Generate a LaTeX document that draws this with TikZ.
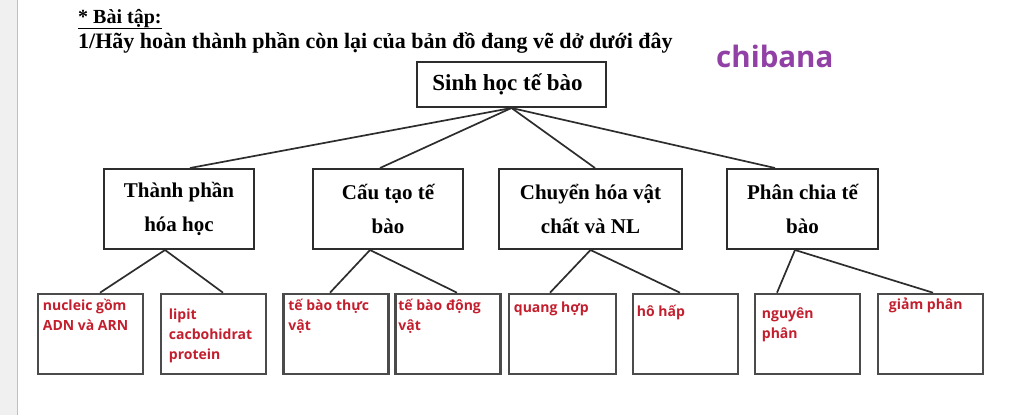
\documentclass[tikz,border=0pt]{standalone}
\usepackage{fontspec}
\setmainfont{Liberation Serif}
\newfontfamily\notefont{Open Sans}
\definecolor{boxline}{RGB}{45,45,45}
\definecolor{leafline}{RGB}{75,75,75}
\definecolor{answer}{RGB}{195,30,45}
\definecolor{brand}{RGB}{145,65,165}
\tikzset{
  topic/.style={draw=boxline,line width=2pt,minimum height=80pt,inner sep=0pt,align=center,
    font=\bfseries\fontsize{21}{34}\selectfont},
  leaf/.style={draw=leafline,line width=2.6pt,minimum width=105pt,minimum height=80pt},
  note/.style={anchor=north west,inner sep=0pt,align=left,text=answer,
    font=\notefont\bfseries\fontsize{14}{20}\selectfont},
  link/.style={draw=boxline,line width=1.7pt},
}
\begin{document}
\begin{tikzpicture}[x=1pt,y=-1pt]
      \useasboundingbox (0,0) rectangle (1024,415);
      \fill[black!6] (0,0) rectangle (17,415);
      \draw[black!25,line width=1pt] (17,0) -- (17,415);

      % heading of the exercise
      \node[anchor=base west,inner sep=0pt,font=\bfseries\fontsize{20}{24}\selectfont] (h1) at (78,23) {\underline{* Bài tập:}};
      \node[anchor=base west,inner sep=0pt,font=\bfseries\fontsize{22}{24}\selectfont] (h2) at (78,48)
        {1/Hãy hoàn thành phần còn lại của bản đồ đang vẽ dở dưới đây};
      \node[anchor=base west,inner sep=0pt,text=brand,font=\notefont\bfseries\fontsize{29.5}{30}\selectfont] (w) at (716,67) {chibana};

      \node [draw=boxline,line width=2pt,minimum width=189pt,minimum height=45pt,
        font=\bfseries\fontsize{23}{26}\selectfont] (0) at (511.5,84.5) {Sinh học tế bào\hspace*{8pt}};

      \node [topic,minimum width=150pt] (1) at (179,209) {Thành phần\\hóa học};
      \node [topic,minimum width=150pt] (2) at (388,209) {Cấu tạo tế\\bào};
      \node [topic,minimum width=183pt] (3) at (590.5,209) {Chuyển hóa vật\\chất và NL};
      \node [topic,minimum width=151pt] (4) at (802.5,209) {Phân chia tế\\bào};

      \node [leaf,label={[note,xshift=6pt,yshift=-6pt]north west:{nucleic gồm\\ADN và ARN}}] (11) at (90.5,334) {};
      \node [leaf,label={[note,xshift=9pt,yshift=-16pt]north west:{lipit\\cacbohidrat\\protein}}] (12) at (213.5,334) {};
      \node [leaf,label={[note,xshift=6pt,yshift=-6pt]north west:{tế bào thực\\vật}}] (21) at (336,334) {};
      \node [leaf,label={[note,xshift=4pt,yshift=-6pt]north west:{tế bào động\\vật}}] (22) at (448,334) {};
      \node [leaf,minimum width=107pt,label={[note,xshift=6pt,yshift=-9pt]north west:{quang hợp}}] (31) at (562.5,334) {};
      \node [leaf,label={[note,xshift=5pt,yshift=-12pt]north west:{hô hấp}}] (32) at (685.5,334) {};
      \node [leaf,label={[note,xshift=8pt,yshift=-15pt]north west:{nguyên\\phân}}] (41) at (807.5,334) {};
      \node [leaf,label={[note,xshift=12pt,yshift=-5pt]north west:{giảm phân}}] (42) at (930.5,334) {};

      \draw[link] (0.south) -- ([xshift=11pt]1.north);
      \draw[link] (0.south) -- ([xshift=-8pt]2.north);
      \draw[link] (0.south) -- ([xshift=4.5pt]3.north);
      \draw[link] (0.south) -- ([xshift=-27.5pt]4.north);

      \draw[link] ([xshift=-14pt]1.south) -- ([xshift=9.5pt]11.north);
      \draw[link] ([xshift=-14pt]1.south) -- ([xshift=9.5pt]12.north);
      \draw[link] ([xshift=-18pt]2.south) -- ([xshift=-6pt]21.north);
      \draw[link] ([xshift=-18pt]2.south) -- ([xshift=9pt]22.north);
      \draw[link] (3.south) -- ([xshift=-12.5pt]31.north);
      \draw[link] (3.south) -- ([xshift=-5.5pt]32.north);
      \draw[link] ([xshift=-7.5pt]4.south) -- ([xshift=-30.5pt]41.north);
      \draw[link] ([xshift=-7.5pt]4.south) -- ([xshift=2.5pt]42.north);
    \end{tikzpicture}
\end{document}
